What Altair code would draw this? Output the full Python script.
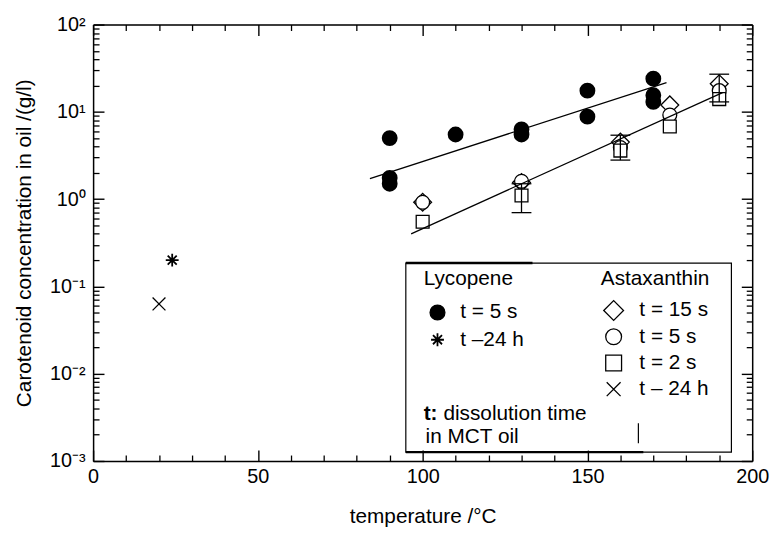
import altair as alt
import pandas as pd

# ---------------- data ----------------
lyc_temp = [90, 90, 90, 110, 130, 130, 150, 150, 170, 170, 170]
lyc_conc = [5.0, 1.75, 1.5, 5.5, 6.3, 5.5, 17.5, 8.8, 24.0, 15.5, 13.0]

lyc24_temp = [24]
lyc24_conc = [0.2]

ast_temp = [100, 130, 160, 175, 190]
ast15_conc = [0.92, 1.55, 4.5, 12.0, 21.0]
ast5_conc = [0.92, 1.6, 3.9, 9.2, 17.5]
ast2_conc = [0.55, 1.1, 3.6, 6.8, 14.0]

ast24_temp = [20]
ast24_conc = [0.063]

err_temp = [130, 160, 190]
err_low = [0.7, 2.8, 13.0]
err_high = [1.5, 5.4, 27.0]

fit_lyc_temp = [84, 174]
fit_lyc_conc = [1.72, 21.6]
fit_ast_temp = [96.5, 191]
fit_ast_conc = [0.40, 16.6]

x_major = [0, 50, 100, 150, 200]
x_minor = [10, 20, 30, 40, 60, 70, 80, 90, 110, 120, 130, 140, 160, 170, 180, 190]
y_major = [1e-3, 1e-2, 1e-1, 1.0, 10.0, 100.0]
y_minor = [k * 10.0 ** n for n in range(-3, 2) for k in range(2, 10)]
y_tick_labels = ["10⁻³", "10⁻²", "10⁻¹", "10⁰", "10¹", "10²"]

lyc_legend_title = "Lycopene"
ast_legend_title = "Astaxanthin"
lyc_legend_labels = ["t = 5 s", "t –24 h"]
ast_legend_labels = ["t = 15 s", "t = 5 s", "t = 2 s", "t – 24 h"]
note_bold = "t:"
note_lines = ["dissolution time", "in MCT oil"]

# ---------------- styling ----------------
FONT = "Liberation Sans"
XS = alt.Scale(domain=[0, 200], nice=False, zero=False)
YS = alt.Scale(type="log", domain=[1e-3, 1e2], nice=False)
STAR = "M0,-1L0,1M-1,0L1,0M-0.7,-0.7L0.7,0.7M-0.7,0.7L0.7,-0.7"
XMARK = "M-1,-1L1,1M-1,1L1,-1"
label_expr = "[" + ",".join("'%s'" % s for s in y_tick_labels) + "][round(log(datum.value)/LN10)+3]"


def ax(orient, values, kind, title=None):
    common = dict(orient=orient, values=values, grid=False, title=title,
                  labelFont=FONT, titleFont=FONT)
    if kind == "label":
        extra = dict(ticks=False, domain=True, domainColor="black", domainWidth=1.5,
                     labelColor="black", labelFontSize=20, labelFlush=False,
                     labelOverlap=False, labelBound=False, titleColor="black",
                     titleFontSize=21, titleFontWeight="normal")
        if orient in ("bottom", "top"):
            extra.update(labelPadding=6, titlePadding=19, format="d")
        else:
            extra.update(labelPadding=8, titlePadding=15, labelExpr=label_expr)
        common.update(extra)
    elif kind == "major":
        common.update(labels=False, domain=orient in ("top", "right"),
                      domainColor="black", domainWidth=1.5,
                      tickColor="black", tickWidth=1.4, tickSize={"expr": "-11"})
    else:
        common.update(labels=False, domain=False, tickColor="black",
                      tickWidth=1.3, tickSize={"expr": "-6"})
    return alt.Axis(**common)


def enc(chart, xaxis=None, yaxis=None, y="c:Q"):
    return chart.encode(
        x=alt.X("t:Q", scale=XS, axis=xaxis),
        y=alt.Y(y, scale=YS, axis=yaxis),
    )


df_lyc = pd.DataFrame({"t": lyc_temp, "c": lyc_conc})
df_lyc24 = pd.DataFrame({"t": lyc24_temp, "c": lyc24_conc})
df_a15 = pd.DataFrame({"t": ast_temp, "c": ast15_conc})
df_a5 = pd.DataFrame({"t": ast_temp, "c": ast5_conc})
df_a2 = pd.DataFrame({"t": ast_temp, "c": ast2_conc})
df_a24 = pd.DataFrame({"t": ast24_temp, "c": ast24_conc})
df_err = pd.DataFrame({"t": err_temp, "lo": err_low, "hi": err_high})
df_fit = pd.concat([
    pd.DataFrame({"t": fit_lyc_temp, "c": fit_lyc_conc, "s": "lyc"}),
    pd.DataFrame({"t": fit_ast_temp, "c": fit_ast_conc, "s": "ast"}),
])

open_style = dict(filled=True, fill="white", stroke="black", strokeWidth=1.3, opacity=1)

diamonds = enc(alt.Chart(df_a15).mark_point(shape="diamond", size=324, **open_style),
               ax("bottom", x_major, "label", "temperature /°C"),
               ax("left", y_major, "label", "Carotenoid concentration in oil /(g/l)"))
circles = enc(alt.Chart(df_a5).mark_point(shape="circle", size=196, **open_style),
              ax("bottom", x_major, "major"), ax("left", y_major, "major"))
squares = enc(alt.Chart(df_a2).mark_point(shape="square", size=169, **open_style),
              ax("bottom", x_minor, "minor"), ax("left", y_minor, "minor"))
lyc = enc(alt.Chart(df_lyc).mark_point(shape="circle", size=196, filled=True,
                                      fill="black", stroke="black", opacity=1),
          ax("top", x_major, "major"), ax("right", y_major, "major"))
fits = enc(alt.Chart(df_fit).mark_line(color="black", strokeWidth=1.3),
           ax("top", x_minor, "minor"), ax("right", y_minor, "minor")).encode(detail="s:N")
star = enc(alt.Chart(df_lyc24).mark_point(shape=STAR, size=169, stroke="black",
                                         strokeWidth=1.8, opacity=1))
xmark = enc(alt.Chart(df_a24).mark_point(shape=XMARK, size=169, stroke="black",
                                        strokeWidth=1.3, opacity=1))
err_rule = alt.Chart(df_err).mark_rule(color="black", strokeWidth=1.3).encode(
    x=alt.X("t:Q", scale=XS, axis=None),
    y=alt.Y("lo:Q", scale=YS, axis=None), y2="hi:Q")
cap_lo = enc(alt.Chart(df_err).mark_tick(orient="horizontal", size=20, thickness=1.3,
                                        color="black", opacity=1), y="lo:Q")
cap_hi = enc(alt.Chart(df_err).mark_tick(orient="horizontal", size=20, thickness=1.3,
                                        color="black", opacity=1), y="hi:Q")

# ---------------- legend box ----------------
one = pd.DataFrame({"k": [0]})


def text_at(x, y, txt, bold=False):
    return alt.Chart(pd.DataFrame({"label": [txt]})).mark_text(
        align="left", baseline="middle", font=FONT, fontSize=21, color="black",
        fontWeight="bold" if bold else "normal"
    ).encode(x=alt.value(x), y=alt.value(y), text="label:N")


def sym_at(x, y, shape, size, fill, sw=1.3):
    return alt.Chart(one).mark_point(shape=shape, size=size, filled=True, fill=fill,
                                     stroke="black", strokeWidth=sw, opacity=1).encode(
        x=alt.value(x), y=alt.value(y))


def hline(x1, x2, y, w):
    return alt.Chart(one).mark_rule(color="black", strokeWidth=w).encode(
        x=alt.value(x1), x2=alt.value(x2), y=alt.value(y))


box = alt.Chart(one).mark_rect(filled=False, stroke="black", strokeWidth=1.2).encode(
    x=alt.value(316), x2=alt.value(645), y=alt.value(241), y2=alt.value(432))
stray = alt.Chart(one).mark_rule(color="black", strokeWidth=1.2).encode(
    x=alt.value(551), y=alt.value(403), y2=alt.value(423))

legend = [box, stray, hline(316, 444, 241, 2.4), hline(316, 556, 432, 2.4),
          text_at(334, 257, lyc_legend_title), text_at(513, 257, ast_legend_title)]
lyc_syms = [("circle", 225, "black", 1.3), (STAR, 169, "transparent", 1.8)]
for i, (lab, s) in enumerate(zip(lyc_legend_labels, lyc_syms)):
    y = 291 + 27.5 * i
    legend += [sym_at(348, y, s[0], s[1], s[2], s[3]), text_at(371, y, lab)]
ast_syms = [("diamond", 400), ("circle", 256), ("square", 256), (XMARK, 196)]
for i, (lab, s) in enumerate(zip(ast_legend_labels, ast_syms)):
    y = 289 + 26.5 * i
    legend += [sym_at(526, y, s[0], s[1], "white"), text_at(552, y, lab)]
legend += [text_at(334, 394, note_bold, bold=True), text_at(354, 394, note_lines[0]),
           text_at(336, 417, note_lines[1])]

chart = alt.layer(
    diamonds, circles, squares, lyc, fits, star, xmark, err_rule, cap_lo, cap_hi, *legend
).resolve_axis(x="independent", y="independent").properties(
    width=666, height=441,
    autosize=alt.AutoSizeParams(type="none"),
    padding={"left": 86, "top": 14, "right": 18, "bottom": 65},
).configure_view(stroke=None).configure(font=FONT)

chart.save("out.html", embed_options={"renderer": "svg", "actions": False})
